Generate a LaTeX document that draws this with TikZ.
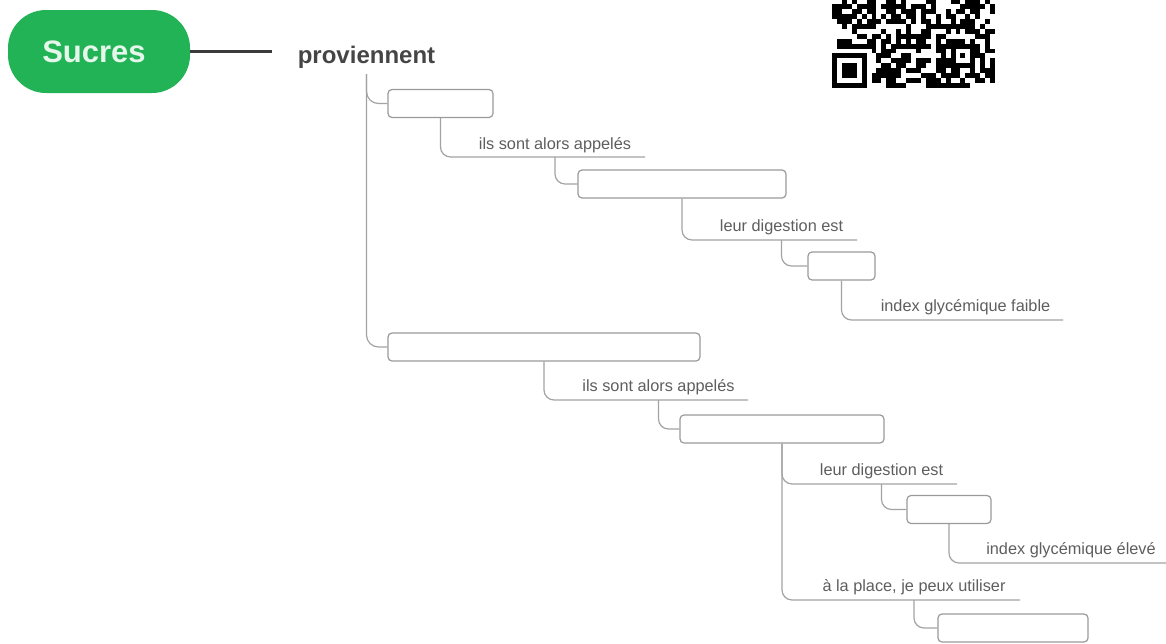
\documentclass[tikz,border=0pt]{standalone}
\usepackage{fontspec}
\setmainfont{Liberation Sans}
\definecolor{pill}{HTML}{21B355}
\definecolor{pilltext}{HTML}{E4F7EA}
\definecolor{stem}{HTML}{3C3C3C}
\definecolor{heading}{HTML}{454545}
\definecolor{wire}{HTML}{A3A3A3}
\definecolor{frame}{HTML}{9A9A9A}
\definecolor{caption}{HTML}{5E5E5E}
\tikzset{
  pillnode/.style={fill=pill, rounded corners=38pt, minimum width=182pt, minimum height=83pt,
    inner sep=0pt, text=pilltext, font=\bfseries\fontsize{31}{31}\selectfont},
  blank/.style={draw=frame, line width=1.2pt, fill=white, rounded corners=4pt,
    inner sep=0pt, minimum height=28pt},
  tag/.style={text=caption, font=\fontsize{16.3}{16.3}\selectfont, inner sep=0pt, anchor=base},
  link/.style={draw=wire, line width=1.2pt, rounded corners=10pt},
}
\begin{document}
\begin{tikzpicture}[x=1pt, y=-1pt]
\useasboundingbox (0,0) rectangle (1166,643);

% root and heading
\node[pillnode] (sucres) at (99,51.5) {\hspace*{-10pt}Sucres};
\node[anchor=base, inner xsep=0pt, inner ysep=6pt, text=heading,
      font=\bfseries\fontsize{24}{24}\selectfont] (prov) at (366.5,63) {proviennent};
\draw[stem, line width=2.4pt, shorten >=26pt] (sucres.east) -- (prov.west |- sucres.east);

% empty boxes
\node[blank, minimum width=105pt] (b1) at (440.5,103.5) {};
\node[blank, minimum width=208pt] (b2) at (682,184) {};
\node[blank, minimum width=67pt]  (b3) at (841.5,266) {};
\node[blank, minimum width=312pt] (b4) at (544,347) {};
\node[blank, minimum width=204pt] (b5) at (782,429) {};
\node[blank, minimum width=84pt]  (b6) at (949,509.5) {};
\node[blank, minimum width=150pt] (b7) at (1013,628) {};

% captions
\node[tag] (l1) at (555,149)    {ils sont alors appelés};
\node[tag] (l2) at (781.5,231.5) {leur digestion est};
\node[tag] (l3) at (965.5,311.5) {index glycémique faible};
\node[tag] (l4) at (658.5,391.5) {ils sont alors appelés};
\node[tag] (l5) at (881.5,475.5) {leur digestion est};
\node[tag] (l6) at (1071,554.5) {index glycémique élevé};
\node[tag] (l7) at (914,591.5)  {à la place, je peux utiliser};

% right ends of the caption rules
\coordinate (u1) at (645,157);
\coordinate (u2) at (857,240);
\coordinate (u3) at (1063,320);
\coordinate (u4) at (748,400);
\coordinate (u5) at (957,484);
\coordinate (u6) at (1166,563);
\coordinate (u7) at (1020,600);

% trunk under the heading
\draw[link, rounded corners=12pt] (prov.south) |- (b4.west);
\draw[link, rounded corners=12pt] (prov.south) |- (b1.west);

% first branch
\draw[link] (b1.south) |- (u1);
\draw[link] (l1.center |- u1) |- (b2.west);
\draw[link] (b2.south) |- (u2);
\draw[link] (l2.center |- u2) |- (b3.west);
\draw[link] (b3.south) |- (u3);

% second branch
\draw[link] (b4.south) |- (u4);
\draw[link] (l4.center |- u4) |- (b5.west);
\draw[link] (b5.south) |- (u5);
\draw[link] (b5.south) |- (u7);
\draw[link] (l5.center |- u5) |- (b6.west);
\draw[link] (b6.south) |- (u6);
\draw[link] (l7.center |- u7) |- (b7.west);

% QR code (version 4, 33 modules), lower part only
\begin{scope}
\clip (832,0) rectangle (995,88);
\pgfmathsetseed{11}
\foreach \r in {15,...,32}{
  \foreach \c in {0,...,32}{
    \pgfmathtruncatemacro{\free}{(((\r>24)&&(\c<8)) || ((\r>23)&&(\r<29)&&(\c>23)&&(\c<29)) || (\c==6)) ? 0 : 1}
    \pgfmathtruncatemacro{\bit}{(rnd<0.56) ? 1 : 0}
    \ifnum\free\bit=11
      \fill[black] (832+\c*4.94, -75+\r*4.94) rectangle ++(4.96,4.96);
    \fi
  }
}
% timing column
\foreach \r in {16,18,...,24}{
  \fill[black] (832+6*4.94, -75+\r*4.94) rectangle ++(4.96,4.96);
}
% finder pattern
\fill[black] (832,53.44) rectangle ++(34.58,34.58);
\fill[white] (832+4.94,53.44+4.94) rectangle ++(24.7,24.7);
\fill[black] (832+9.88,53.44+9.88) rectangle ++(14.82,14.82);
% alignment pattern
\fill[black] (950.56,43.56) rectangle ++(24.7,24.7);
\fill[white] (950.56+4.94,43.56+4.94) rectangle ++(14.82,14.82);
\fill[black] (950.56+9.88,43.56+9.88) rectangle ++(4.94,4.94);
\end{scope}
\end{tikzpicture}
\end{document}
